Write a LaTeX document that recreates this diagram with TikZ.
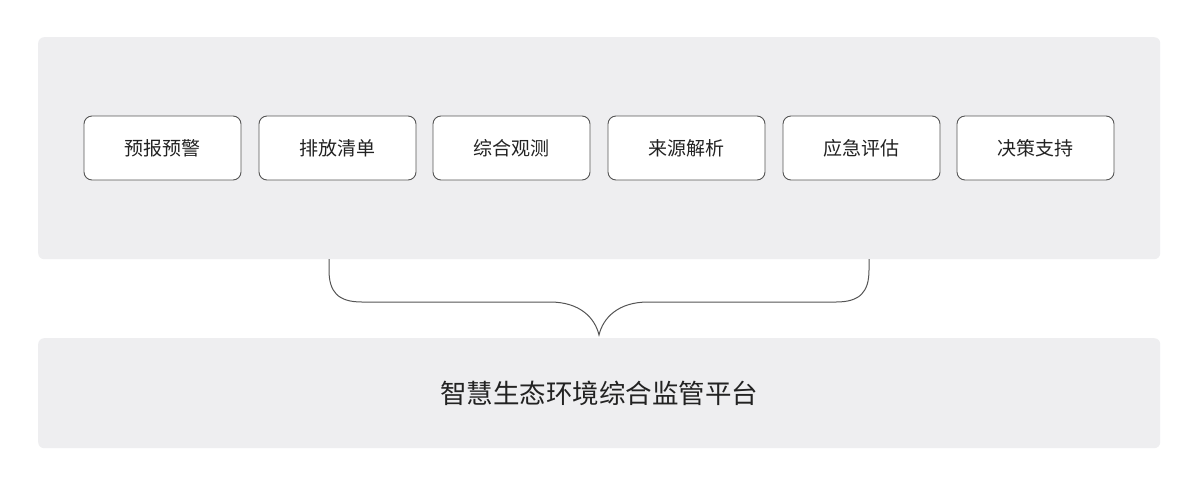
\documentclass[tikz,border=0pt]{standalone}
\usepackage{fontspec}
\newfontfamily\cjk{Noto Sans CJK SC}
\usetikzlibrary{calc}
\definecolor{panel}{HTML}{EEEEF0}
\definecolor{edge}{HTML}{555555}
\definecolor{ink}{HTML}{222222}
\tikzset{
  panelbox/.style={fill=panel, draw=none, rounded corners=6pt},
  item/.style={draw=edge, line width=0.9pt, fill=white, rounded corners=8pt,
    minimum width=157pt, minimum height=64pt, inner sep=0pt,
    font=\cjk\fontsize{19pt}{21pt}\selectfont, text=ink},
  bracel/.style={draw=edge, line width=1pt},
}
\begin{document}
\begin{tikzpicture}[x=1pt,y=-1pt]
\useasboundingbox (0,0) rectangle (1200,499);
\fill[white] (0,0) rectangle (1200,499);
\node[panelbox, minimum width=1122pt, minimum height=222pt, inner sep=0pt, anchor=north west] (top) at (38,37) {};
\node[panelbox, minimum width=1122pt, minimum height=110pt, inner sep=0pt, anchor=north west, font=\cjk\fontsize{26.5pt}{29pt}\selectfont, text=ink] (bottom) at (38,338) {智慧生态环境综合监管平台};
\node[item] (b1) at (162.5,148) {预报预警};
\node[item] (b2) at (337.5,148) {排放清单};
\node[item] (b3) at (511.5,148) {综合观测};
\node[item] (b4) at (686.5,148) {来源解析};
\node[item] (b5) at (861.5,148) {应急评估};
\node[item] (b6) at (1035.5,148) {决策支持};
\coordinate (bl) at (329,259);
\coordinate (br) at (869,259);
\coordinate (tip) at (599,335);
\draw[bracel] (bl) -- (329,270) .. controls (329,292) and (338,302) .. (362,302)
  -- (550,302) .. controls (580,302) and (595,318) .. (tip)
  .. controls (603,318) and (618,302) .. (648,302)
  -- (836,302) .. controls (860,302) and (869,292) .. (869,270) -- (br);
\end{tikzpicture}
\end{document}
